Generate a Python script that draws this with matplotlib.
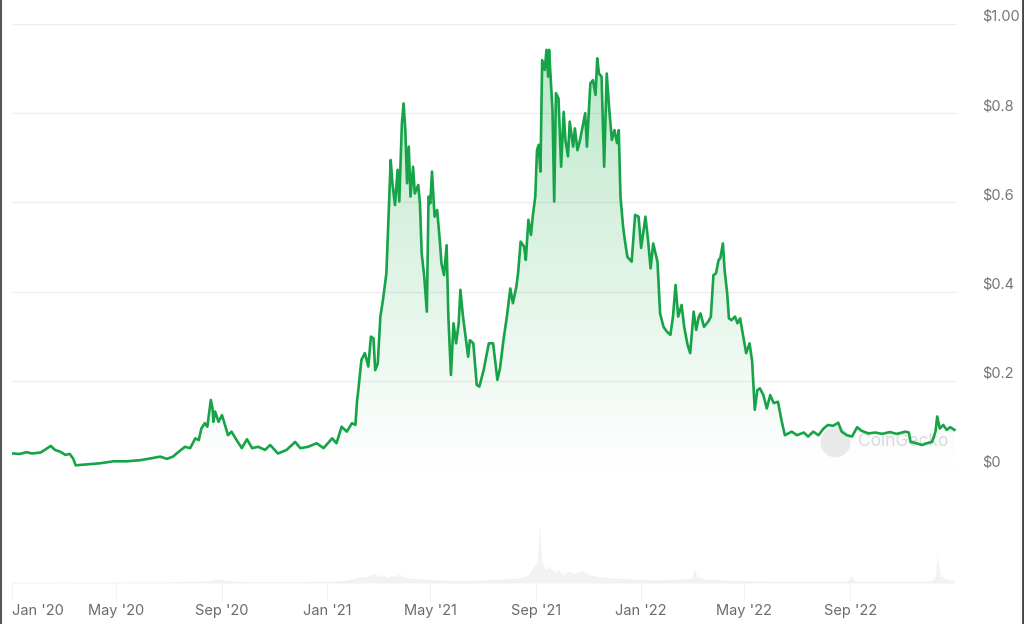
import numpy as np
import matplotlib
matplotlib.use("Agg")
import matplotlib.pyplot as plt

plt.rcParams['font.family'] = ['Inter', 'DejaVu Sans']

# price, days since 1 Jan 2020 -> USD
days = [1, 9, 17, 23, 33, 38, 45, 50, 56, 62, 67, 71, 74, 83, 102, 118, 133, 149, 164, 172, 180, 187, 195,
        201, 207, 213, 217, 220, 224, 227, 231, 233, 234, 236, 240, 244, 248, 251, 255, 261, 267, 273, 279,
        286, 294, 300, 309, 319, 329, 335, 344, 354, 362, 372, 377, 383, 389, 395, 399, 401, 402, 406, 410,
        414, 417, 420, 422, 425, 428, 431, 435, 438, 440, 442, 445, 448, 450, 453, 455, 457, 459, 461, 463,
        466, 468, 472, 474, 476, 479, 482, 484, 486, 488, 491, 494, 497, 499, 502, 505, 507, 510, 513, 516,
        519, 521, 524, 526, 530, 532, 536, 540, 543, 548, 554, 559, 564, 567, 571, 575, 579, 582, 586, 588,
        591, 595, 597, 600, 603, 605, 608, 610, 612, 614, 616, 619, 621, 623, 624, 626, 628, 630, 632, 635,
        638, 641, 643, 646, 648, 652, 654, 657, 660, 663, 666, 668, 672, 675, 678, 680, 682, 685, 688, 691,
        694, 697, 700, 703, 705, 707, 710, 712, 715, 718, 720, 724, 728, 731, 736, 739, 742, 745, 750, 753,
        757, 761, 765, 768, 771, 774, 778, 781, 785, 788, 792, 795, 798, 800, 804, 809, 812, 815, 818, 821,
        823, 826, 828, 831, 833, 836, 840, 843, 846, 849, 853, 857, 860, 863, 866, 869, 873, 877, 881, 885,
        890, 894, 898, 906, 912, 920, 925, 931, 937, 943, 948, 954, 960, 964, 970, 976, 982, 987, 995, 1003,
        1011, 1020, 1028, 1038, 1042, 1044, 1051, 1057, 1063, 1069, 1073, 1075, 1078, 1082, 1086, 1090, 1095]
price = [0.037, 0.036, 0.040, 0.037, 0.039, 0.045, 0.054, 0.045, 0.041, 0.034, 0.036, 0.026, 0.0105, 0.012,
         0.015, 0.0195, 0.0195, 0.022, 0.027, 0.030, 0.025, 0.030, 0.043,
         0.052, 0.049, 0.071, 0.067, 0.093, 0.105, 0.097, 0.157, 0.138, 0.108, 0.131, 0.108, 0.123, 0.097,
         0.078, 0.086, 0.067, 0.049, 0.069, 0.049,
         0.052, 0.045, 0.056, 0.037, 0.045, 0.063, 0.049, 0.052, 0.060, 0.049, 0.071, 0.060, 0.097, 0.086,
         0.105, 0.101, 0.157, 0.172, 0.247, 0.262,
         0.232, 0.299, 0.295, 0.224, 0.239, 0.344, 0.381, 0.441, 0.590, 0.695, 0.643, 0.594, 0.673, 0.602,
         0.777, 0.822, 0.762, 0.643, 0.725, 0.613,
         0.680, 0.620, 0.639, 0.598, 0.486, 0.433, 0.355, 0.613, 0.598, 0.669, 0.568, 0.583, 0.516, 0.463,
         0.437, 0.504, 0.344, 0.213, 0.329, 0.284,
         0.329, 0.404, 0.344, 0.314, 0.254, 0.291, 0.284, 0.191, 0.187, 0.224, 0.284, 0.284, 0.202, 0.228,
         0.291, 0.344, 0.407, 0.374, 0.411, 0.441,
         0.512, 0.501, 0.471, 0.561, 0.527, 0.568, 0.613, 0.717, 0.729, 0.669, 0.919, 0.897, 0.942, 0.882,
         0.942, 0.874, 0.807, 0.602, 0.845, 0.833,
         0.680, 0.803, 0.740, 0.703, 0.781, 0.725, 0.766, 0.717, 0.740, 0.770, 0.800, 0.725, 0.867, 0.874,
         0.841, 0.923, 0.889, 0.882, 0.680, 0.889,
         0.807, 0.740, 0.762, 0.733, 0.762, 0.613, 0.546, 0.516, 0.478, 0.471, 0.467, 0.572, 0.568, 0.498,
         0.568, 0.516, 0.452, 0.508, 0.467, 0.351,
         0.321, 0.310, 0.303, 0.344, 0.415, 0.344, 0.370, 0.321, 0.280, 0.262, 0.355, 0.314, 0.344, 0.351,
         0.321, 0.333, 0.344, 0.437, 0.441, 0.471,
         0.475, 0.508, 0.448, 0.396, 0.340, 0.336, 0.344, 0.329, 0.340, 0.307, 0.262, 0.284, 0.243, 0.135,
         0.179, 0.183, 0.168, 0.138, 0.168, 0.150,
         0.153, 0.112, 0.078, 0.086, 0.078, 0.084, 0.075, 0.086, 0.078, 0.093, 0.101, 0.099, 0.106, 0.086,
         0.078, 0.075, 0.096, 0.088, 0.082, 0.084,
         0.081, 0.085, 0.081, 0.086, 0.084, 0.063, 0.060, 0.056, 0.060, 0.063, 0.086, 0.120, 0.093, 0.101,
         0.090, 0.096, 0.090]

# trading volume (relative units)
vol_days = [0, 30, 60, 90, 120, 150, 180, 210, 230, 240, 245, 250, 260, 280, 300, 330, 360, 385, 400, 405,
            410, 415, 420, 425, 430, 436, 440, 445, 450, 455, 460, 470, 480, 490, 500, 510, 530, 550, 570,
            590, 600, 605, 610, 613, 615, 617, 620, 625, 630, 635, 640, 648, 655, 662, 670, 680, 690, 700,
            720, 740, 760, 780, 790, 793, 796, 805, 820, 840, 870, 900, 940, 970, 975, 980, 1000, 1040,
            1060, 1070, 1073, 1075, 1078, 1085, 1095]
vol_vals = [1, 1, 1.2, 1, 1.2, 1.3, 1.5, 2, 3, 5, 4, 3, 2, 1.5, 1.5, 1.5, 2, 3, 6, 8,
            7, 9, 12, 8, 10, 7, 9, 8, 11, 7, 6, 5, 5, 4, 4, 3, 3, 4, 5,
            6, 10, 18, 25, 70, 30, 22, 16, 20, 12, 16, 10, 14, 11, 15, 10, 8, 7, 6,
            5, 4, 4, 5, 6, 17, 7, 5, 4, 3, 2.5, 2, 2, 2, 9, 2, 2, 2,
            2, 4, 8, 34, 10, 5, 3]

y_ticks = [0, 0.2, 0.4, 0.6, 0.8, 1.0]
y_labels = ['$0', '$0.2', '$0.4', '$0.6', '$0.8', '$1.00']
x_ticks = [0, 121, 244, 366, 486, 609, 731, 851, 974]
x_labels = ["Jan '20", "May '20", "Sep '20", "Jan '21", "May '21", "Sep '21", "Jan '22", "May '22", "Sep '22"]

W, H = 1024, 624
green = '#17a348'
fig = plt.figure(figsize=(W / 100, H / 100), dpi=100)

ax = fig.add_axes([12 / W, (H - 470) / H, 945 / W, 446 / H])
x_max = 1098
ax.set_xlim(0, x_max)
ax.set_ylim(0, 1.0)

# gradient fill under the line
poly = ax.fill_between(days, price, 0, color='none', lw=0)
grad = np.zeros((256, 1, 4))
grad[:, 0, :3] = matplotlib.colors.to_rgb('#22b04f')
grad[:, 0, 3] = np.linspace(0.0, 0.32, 256)
im = ax.imshow(grad, extent=[0, x_max, 0, 1.0], origin='lower', aspect='auto', zorder=1)
im.set_clip_path(poly.get_paths()[0], transform=ax.transData)

ax.plot(days, price, color=green, lw=1.9, zorder=3, solid_joinstyle='round')

ax.set_yticks(y_ticks)
ax.set_yticklabels(y_labels)
ax.yaxis.tick_right()
ax.tick_params(axis='y', length=0, pad=18, labelsize=10.5, labelcolor='#757575')
for lab in ax.get_yticklabels():
    lab.set_va('bottom')
ax.grid(axis='y', color='#eeeeee', lw=1)
ax.set_axisbelow(True)
ax.set_xticks([])
for s in ax.spines.values():
    s.set_visible(False)

# watermark
ax.scatter([0.871], [0.063], s=460, color='#e6e6e6', alpha=0.85, transform=ax.transAxes, zorder=2,
           clip_on=False, lw=0)
ax.text(0.895, 0.063, 'CoinGecko', transform=ax.transAxes, fontsize=12.5, color='#dadada', va='center',
        ha='left', zorder=2)

# volume panel
vax = fig.add_axes([12 / W, (H - 583) / H, 945 / W, 83 / H])
vax.set_xlim(0, x_max)
vax.set_ylim(0, 100)
vax.fill_between(vol_days, vol_vals, 0, color='#f0f2f4', lw=0)
vax.axhline(0, color='#f0f0f0', lw=1)
vax.set_yticks([])
vax.set_xticks(x_ticks)
vax.set_xticklabels(x_labels)
vax.tick_params(axis='x', length=13, color='#f1f1f1', pad=2, labelsize=10.5, labelcolor='#6b6b6b')
vax.get_xticklabels()[0].set_ha('left')
for s in vax.spines.values():
    s.set_visible(False)

# screenshot frame edges
fig.add_artist(plt.Line2D([0.5 / W, 0.5 / W], [0, 1], color='#555555', lw=1.5))
fig.add_artist(plt.Line2D([1022.5 / W, 1022.5 / W], [0, 1], color='#444444', lw=2.0))

fig.savefig('out.png', dpi=100)
